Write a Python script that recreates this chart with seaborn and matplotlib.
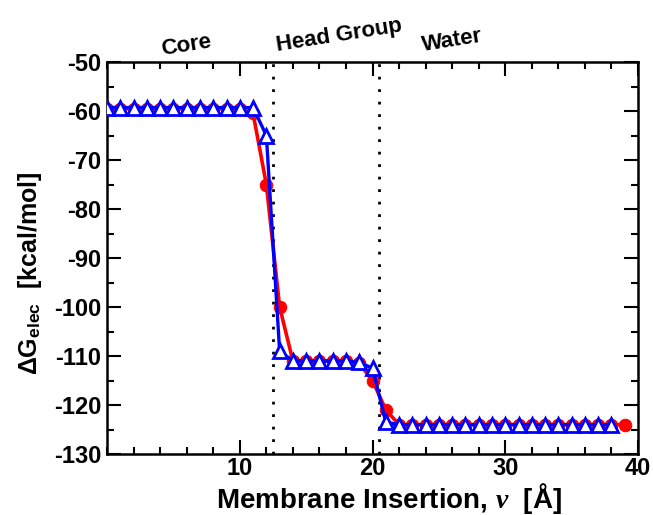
import matplotlib
matplotlib.use("Agg")
import matplotlib.pyplot as plt
import seaborn as sns
import pandas as pd
from matplotlib.ticker import MultipleLocator, FixedLocator

# ---- data ----
red_x = [0, 1, 2, 3, 4, 5, 6, 7, 8, 9, 10, 11, 12, 13, 14, 15, 16, 17, 18, 19,
         20, 21, 22, 23, 24, 25, 26, 27, 28, 29, 30, 31, 32, 33, 34, 35, 36, 37, 38, 39]
red_y = [-59.5, -59.5, -59.5, -59.5, -59.5, -59.5, -59.5, -59.5, -59.5, -59.5,
         -59.5, -60.5, -75, -100, -111, -111, -111, -111, -111, -111.5,
         -115, -121, -124, -124, -124, -124, -124, -124, -124, -124,
         -124, -124, -124, -124, -124, -124, -124, -124, -124, -124]
blue_x = [0, 1, 2, 3, 4, 5, 6, 7, 8, 9, 10, 11, 12, 13, 14, 15, 16, 17, 18, 19,
          20, 21, 22, 23, 24, 25, 26, 27, 28, 29, 30, 31, 32, 33, 34, 35, 36, 37, 38]
blue_y = [-59.3, -59.3, -59.3, -59.3, -59.3, -59.3, -59.3, -59.3, -59.3, -59.3,
          -59.3, -59.3, -65, -109, -111, -111, -111, -111, -111, -111.3,
          -112.5, -123.5, -124, -124, -124, -124, -124, -124, -124, -124,
          -124, -124, -124, -124, -124, -124, -124, -124, -124]
boundaries = [12.5, 20.5]
region_labels = ["Core", "Head Group", "Water"]
region_pos = [(6.0, -46.7), (17.5, -44.7), (26.0, -45.7)]
x_ticks = [10, 20, 30, 40]
y_ticks = [-130, -120, -110, -100, -90, -80, -70, -60, -50]

sns.set_theme(style="ticks")
plt.rcParams["font.family"] = ["Liberation Sans", "DejaVu Sans"]
plt.rcParams["font.weight"] = "bold"
plt.rcParams["axes.unicode_minus"] = False
plt.rcParams["text.color"] = "black"
plt.rcParams["axes.labelcolor"] = "black"
plt.rcParams["mathtext.fontset"] = "custom"
plt.rcParams["mathtext.rm"] = "Liberation Sans"
plt.rcParams["mathtext.bf"] = "Liberation Sans:bold"
plt.rcParams["mathtext.it"] = "Liberation Serif:italic"
plt.rcParams["mathtext.sf"] = "Liberation Sans"

fig = plt.figure(figsize=(6.53, 5.15), dpi=100)
ax = fig.add_axes([0.164, 0.1184, 0.813, 0.7612])

df_red = pd.DataFrame({"x": red_x, "y": red_y})
df_blue = pd.DataFrame({"x": blue_x, "y": blue_y})

for b in boundaries:
    ax.axvline(b, color="black", linestyle=(0, (1, 3.5)), linewidth=2.0, zorder=1)

sns.lineplot(data=df_red, x="x", y="y", ax=ax, color="#ff0000", linewidth=2.6,
             marker="o", markersize=9, markeredgecolor="#ff0000",
             markerfacecolor="#ff0000", zorder=2)
sns.lineplot(data=df_blue, x="x", y="y", ax=ax, color="#0000ff", linewidth=2.4,
             marker="^", markersize=10, markeredgecolor="#0000ff",
             markerfacecolor="white", markeredgewidth=2.0, zorder=3)

ax.set_xlim(0, 40)
ax.set_ylim(-130, -50)
ax.xaxis.set_major_locator(FixedLocator(x_ticks))
ax.xaxis.set_minor_locator(MultipleLocator(2))
ax.yaxis.set_major_locator(FixedLocator(y_ticks))
ax.yaxis.set_minor_locator(MultipleLocator(5))
ax.tick_params(which="both", direction="in", top=True, right=True, width=1.5,
               colors="black")
ax.tick_params(which="major", length=10, labelsize=17, pad=4)
ax.tick_params(axis="x", which="major", pad=2)
ax.tick_params(which="minor", length=5)
for lab in ax.get_xticklabels() + ax.get_yticklabels():
    lab.set_fontweight("bold")
for s in ax.spines.values():
    s.set_linewidth(1.8)
    s.set_color("black")

ax.set_xlabel(r"Membrane Insertion, $\nu$  [Å]", fontsize=20, fontweight="bold")
ax.xaxis.set_label_coords(0.531, -0.069)
ax.set_ylabel(r"$\mathrm{\Delta}$G$_{\mathbf{elec}}$  [kcal/mol]", fontsize=18,
              fontweight="bold")
ax.yaxis.set_label_coords(-0.118, 0.462)

for lbl, (px, py) in zip(region_labels, region_pos):
    ax.text(px, py, lbl, fontsize=16, fontweight="bold", rotation=9,
            ha="center", va="center", clip_on=False, color="black")

fig.savefig("out.png", dpi=100)
